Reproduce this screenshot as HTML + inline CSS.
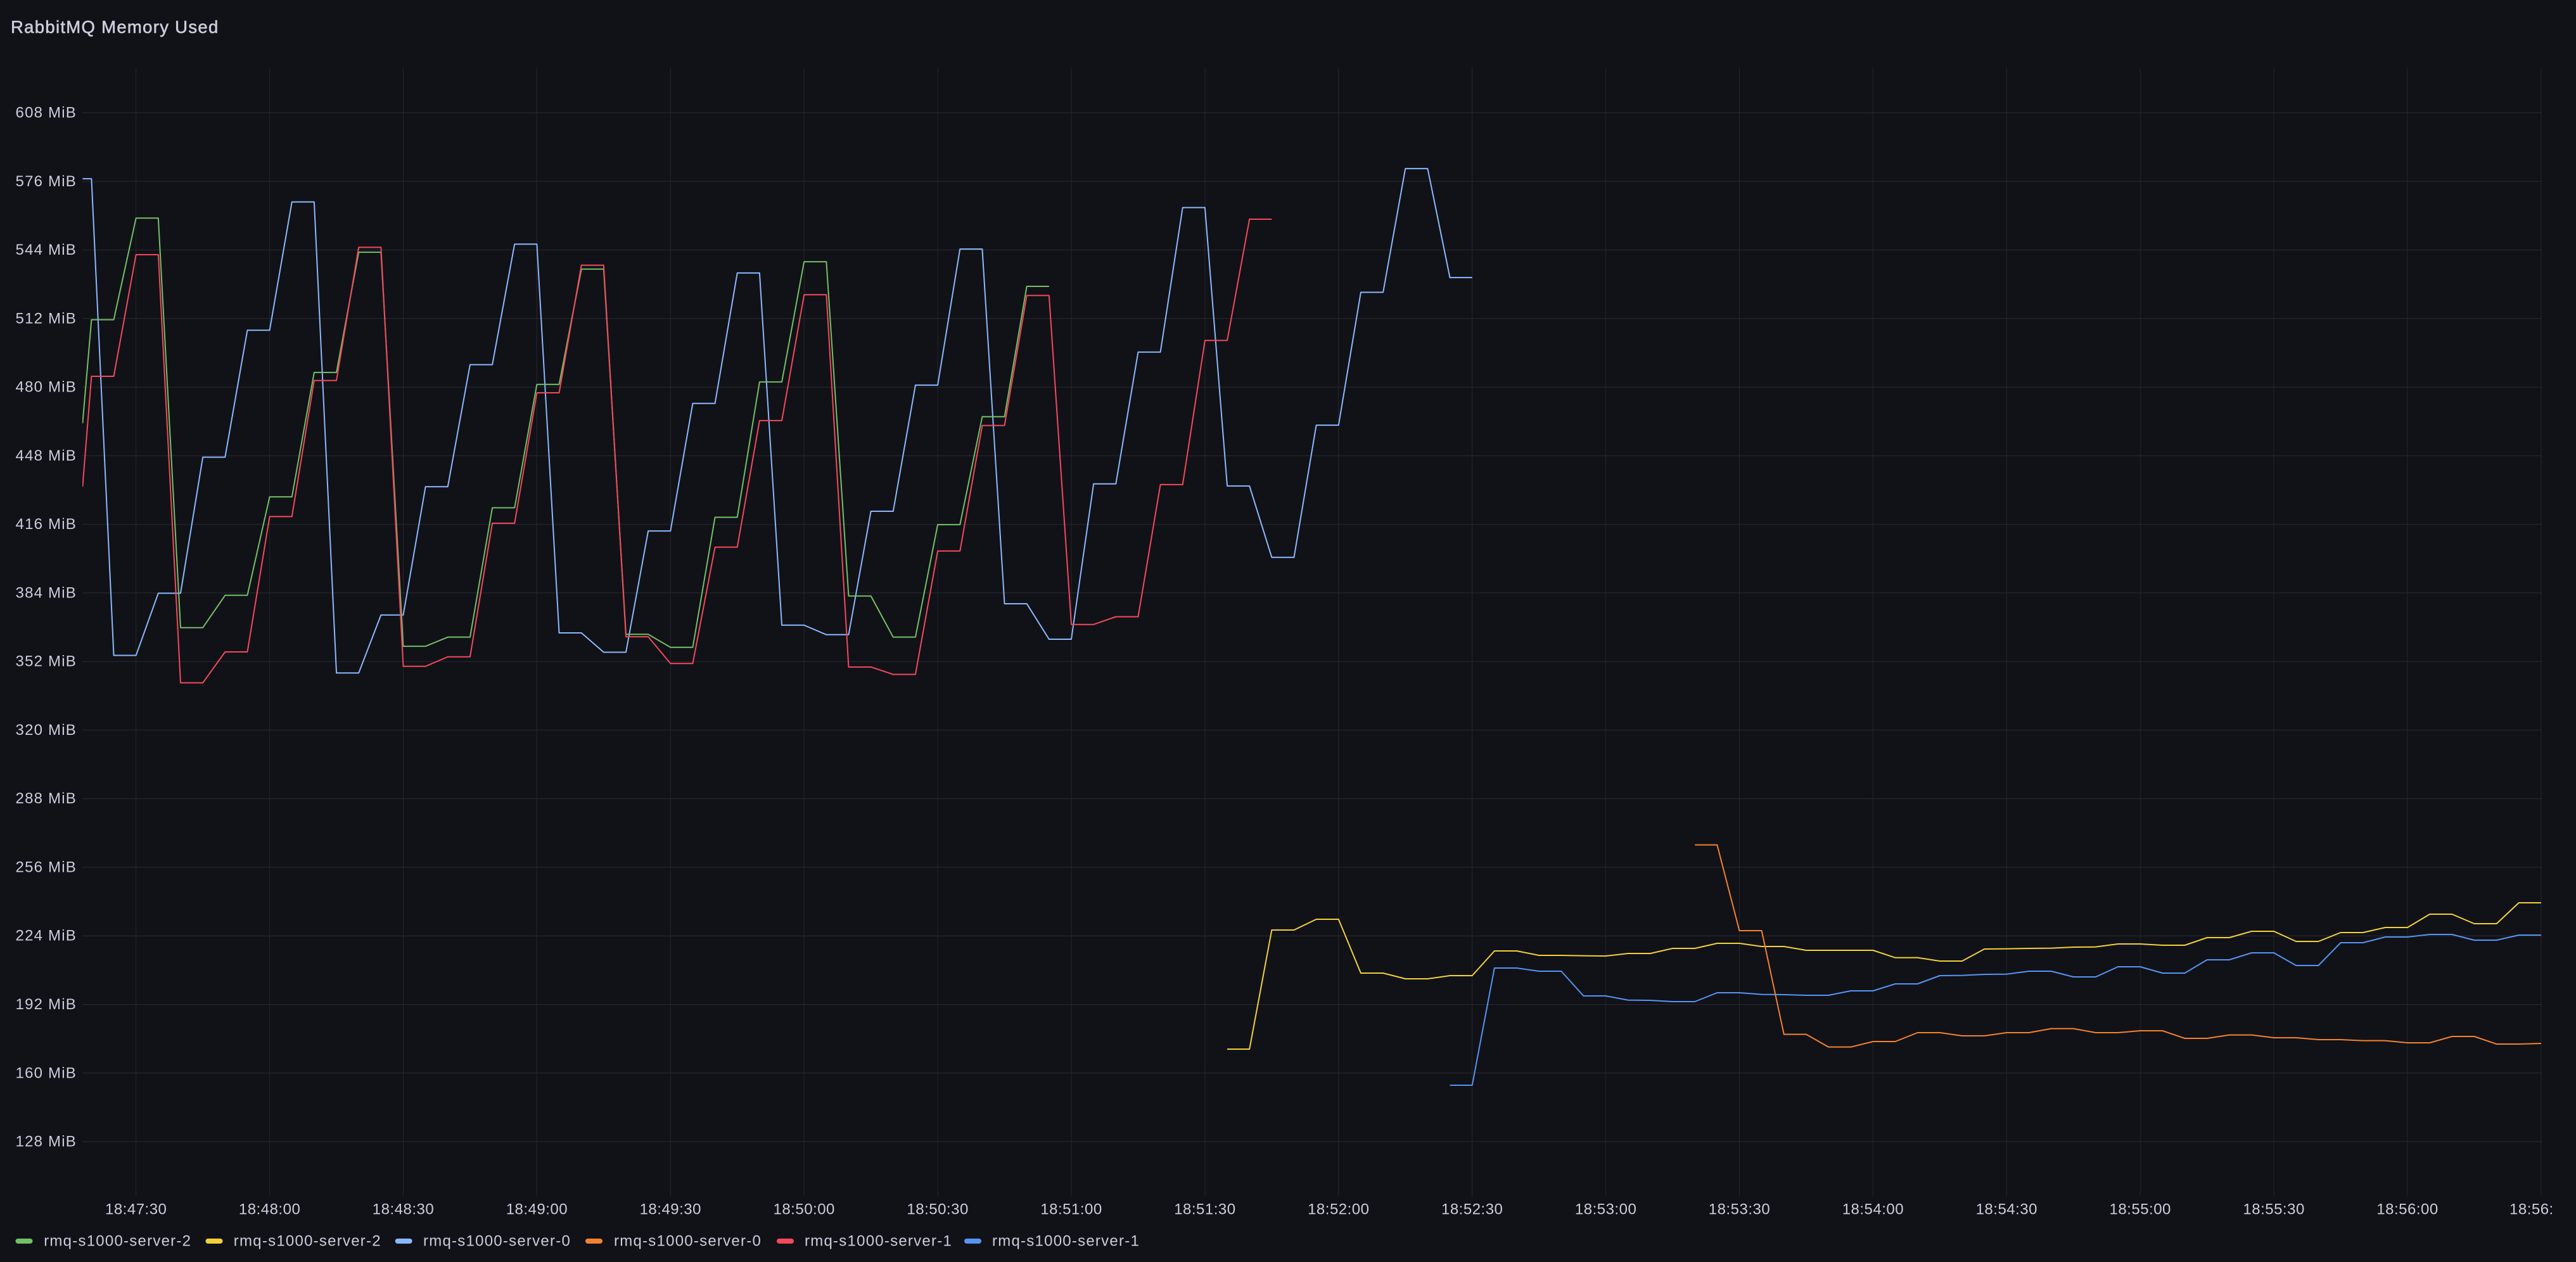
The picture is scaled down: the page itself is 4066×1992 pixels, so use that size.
<!DOCTYPE html>
<html>
<head>
<meta charset="utf-8">
<style>
html,body{margin:0;padding:0;background:#111217;}
svg{display:block;}
text{font-family:"Liberation Sans",sans-serif;fill:#ccccdc;}
</style>
</head>
<body>
<svg width="4066" height="1992" viewBox="0 0 4066 1992" xmlns="http://www.w3.org/2000/svg">
<rect x="0" y="0" width="4066" height="1992" fill="#111217"/>
<defs>
<clipPath id="plot"><rect x="130" y="107" width="3882" height="1781"/></clipPath>
</defs>

<!-- Title -->
<text x="17" y="52" font-size="27.5" letter-spacing="1.3" stroke="#ccccdc" stroke-width="0.6">RabbitMQ Memory Used</text>

<!-- vertical grid -->
<g stroke="#24262c" stroke-width="1">
<path d="M214.7 107V1888M425.6 107V1888M636.5 107V1888M847.4 107V1888M1058.3 107V1888M1269.2 107V1888M1480.1 107V1888M1691 107V1888M1901.9 107V1888M2112.8 107V1888M2323.7 107V1888M2534.6 107V1888M2745.5 107V1888M2956.4 107V1888M3167.3 107V1888M3378.2 107V1888M3589.1 107V1888M3800 107V1888M4010.9 107V1888"/>
</g>
<!-- horizontal grid -->
<g stroke="#2a2b31" stroke-width="1">
<path d="M130 178H4012M130 286.3H4012M130 394.5H4012M130 502.8H4012M130 611.1H4012M130 719.4H4012M130 827.6H4012M130 935.9H4012M130 1044.2H4012M130 1152.4H4012M130 1260.7H4012M130 1369H4012M130 1477.2H4012M130 1585.5H4012M130 1693.8H4012M130 1802H4012"/>
</g>

<!-- Y labels -->
<g font-size="24" letter-spacing="1.2" text-anchor="end">
<text x="121" y="185.5">608 MiB</text>
<text x="121" y="293.8">576 MiB</text>
<text x="121" y="402">544 MiB</text>
<text x="121" y="510.3">512 MiB</text>
<text x="121" y="618.6">480 MiB</text>
<text x="121" y="726.9">448 MiB</text>
<text x="121" y="835.1">416 MiB</text>
<text x="121" y="943.4">384 MiB</text>
<text x="121" y="1051.7">352 MiB</text>
<text x="121" y="1159.9">320 MiB</text>
<text x="121" y="1268.2">288 MiB</text>
<text x="121" y="1376.5">256 MiB</text>
<text x="121" y="1484.7">224 MiB</text>
<text x="121" y="1593">192 MiB</text>
<text x="121" y="1701.3">160 MiB</text>
<text x="121" y="1809.5">128 MiB</text>
</g>

<!-- X labels -->
<g font-size="24" letter-spacing="0.5" text-anchor="middle">
<text x="214.7" y="1916.7">18:47:30</text>
<text x="425.6" y="1916.7">18:48:00</text>
<text x="636.5" y="1916.7">18:48:30</text>
<text x="847.4" y="1916.7">18:49:00</text>
<text x="1058.3" y="1916.7">18:49:30</text>
<text x="1269.2" y="1916.7">18:50:00</text>
<text x="1480.1" y="1916.7">18:50:30</text>
<text x="1691" y="1916.7">18:51:00</text>
<text x="1901.9" y="1916.7">18:51:30</text>
<text x="2112.8" y="1916.7">18:52:00</text>
<text x="2323.7" y="1916.7">18:52:30</text>
<text x="2534.6" y="1916.7">18:53:00</text>
<text x="2745.5" y="1916.7">18:53:30</text>
<text x="2956.4" y="1916.7">18:54:00</text>
<text x="3167.3" y="1916.7">18:54:30</text>
<text x="3378.2" y="1916.7">18:55:00</text>
<text x="3589.1" y="1916.7">18:55:30</text>
<text x="3800" y="1916.7">18:56:00</text>
</g>
<text x="3961" y="1916.7" font-size="24" letter-spacing="0.5">18:56:</text>

<!-- Series -->
<g clip-path="url(#plot)" fill="none" stroke-width="2" stroke-linejoin="round">
<g transform="translate(214.7 230) scale(35.15 0.554847)">
<!-- server-0 light blue -->
<polyline vector-effect="non-scaling-stroke" stroke="#8AB8FF" points="-2.4,94 -2,94 -1,1450 0,1450 1,1273 2,1273 3,886 4,886 5,525 6,525 7,160 8,160 9,1500 10,1500 11,1335 12,1335 13,970 14,970 15,623 16,623 17,280 18,280 19,1386 20,1386 21,1441 22,1441 23,1096 24,1096 25,733 26,733 27,362 28,362 29,1364 30,1364 31,1391 32,1391 33,1040 34,1040 35,681 36,681 37,294 38,294 39,1303 40,1303 41,1404 42,1404 43,962 44,962 45,587 46,587 47,176 48,176 49,968 50,968 51,1171 52,1171 53,795 54,795 55,417 56,417 57,65 58,65 59,375 60,375"/>
<!-- server-2 green -->
<polyline vector-effect="non-scaling-stroke" stroke="#73BF69" points="-2.4,790 -2,495 -1,495 0,206 1,206 2,1371 3,1371 4,1279 5,1279 6,999 7,999 8,645 9,645 10,303 11,303 12,1424 13,1424 14,1398 15,1398 16,1030 17,1030 18,679 19,679 20,351 21,351 22,1390 23,1390 24,1427 25,1427 26,1057 27,1057 28,672 29,672 30,330 31,330 32,1281 33,1281 34,1398 35,1398 36,1078 37,1078 38,771 39,771 40,400 41,400"/>
<!-- server-1 red -->
<polyline vector-effect="non-scaling-stroke" stroke="#F2495C" points="-2.4,970 -2,656 -1,656 0,310 1,310 2,1528 3,1528 4,1440 5,1440 6,1055 7,1055 8,668 9,668 10,289 11,289 12,1481 13,1481 14,1454 15,1454 16,1074 17,1074 18,703 19,703 20,340 21,340 22,1397 23,1397 24,1473 25,1473 26,1142 27,1142 28,782 29,782 30,424 31,424 32,1483 33,1483 34,1504 35,1504 36,1153 37,1153 38,796 39,796 40,426 41,426 42,1362 43,1362 44,1340 45,1340 46,964 47,964 48,554 49,554 50,209 51,209"/>
</g>
<g transform="translate(214.7 1300) scale(35.15 0.333333)">
<!-- server-2 yellow -->
<polyline vector-effect="non-scaling-stroke" stroke="#F2D03A" points="49,1068 50,1068 51,504 52,504 53,453 54,453 55,708 56,708 57,735 58,735 59,720 60,720 61,603 62,603 63,624 64,624 65,626 66,627 67,615 68,615 69,591 70,591 71,567 72,567 73,582 74,582 75,600 76,600 77,600 78,600 79,635 80,635 81,651 82,651 83,594 84,593 85,591 86,590 87,585 88,584 89,570 90,570 91,576 92,576 93,540 94,540 95,510 96,510 97,558 98,558 99,516 100,516 101,492 102,492 103,429 104,429 105,474 106,474 107,375 108,375"/>
<!-- server-1 blue -->
<polyline vector-effect="non-scaling-stroke" stroke="#5794F2" points="59,1239 60,1239 61,684 62,684 63,699 64,699 65,816 66,816 67,836 68,837 69,843 70,843 71,801 72,801 73,809 74,810 75,813 76,813 77,792 78,792 79,759 80,759 81,720 82,719 83,714 84,713 85,699 86,699 87,726 88,726 89,678 90,678 91,708 92,708 93,645 94,645 95,612 96,612 97,672 98,672 99,564 100,564 101,537 102,537 103,525 104,525 105,552 106,552 107,528 108,528"/>
<!-- server-0 orange -->
<polyline vector-effect="non-scaling-stroke" stroke="#F2812E" points="70,101 71,101 72,507 73,507 74,998 75,998 76,1058 77,1058 78,1032 79,1032 80,990 81,990 82,1005 83,1005 84,990 85,990 86,971 87,971 88,990 89,990 90,981 91,981 92,1017 93,1017 94,1001 95,1001 96,1014 97,1014 98,1023 99,1023 100,1028 101,1028 102,1038 103,1038 104,1008 105,1008 106,1044 107,1044 108,1041"/>
</g>
</g>

<!-- Legend -->
<g>
<rect x="24.5" y="1955" width="27" height="8" rx="4" fill="#73BF69"/>
<rect x="324.5" y="1955" width="27" height="8" rx="4" fill="#F2D03A"/>
<rect x="623.7" y="1955" width="27" height="8" rx="4" fill="#8AB8FF"/>
<rect x="924" y="1955" width="27" height="8" rx="4" fill="#F2812E"/>
<rect x="1226" y="1955" width="27" height="8" rx="4" fill="#F2495C"/>
<rect x="1522" y="1955" width="27" height="8" rx="4" fill="#5794F2"/>
</g>
<g font-size="24" letter-spacing="1.24">
<text x="69.2" y="1966.7">rmq-s1000-server-2</text>
<text x="368.8" y="1966.7">rmq-s1000-server-2</text>
<text x="668" y="1966.7">rmq-s1000-server-0</text>
<text x="969" y="1966.7">rmq-s1000-server-0</text>
<text x="1270" y="1966.7">rmq-s1000-server-1</text>
<text x="1566" y="1966.7">rmq-s1000-server-1</text>
</g>
</svg>
</body>
</html>
